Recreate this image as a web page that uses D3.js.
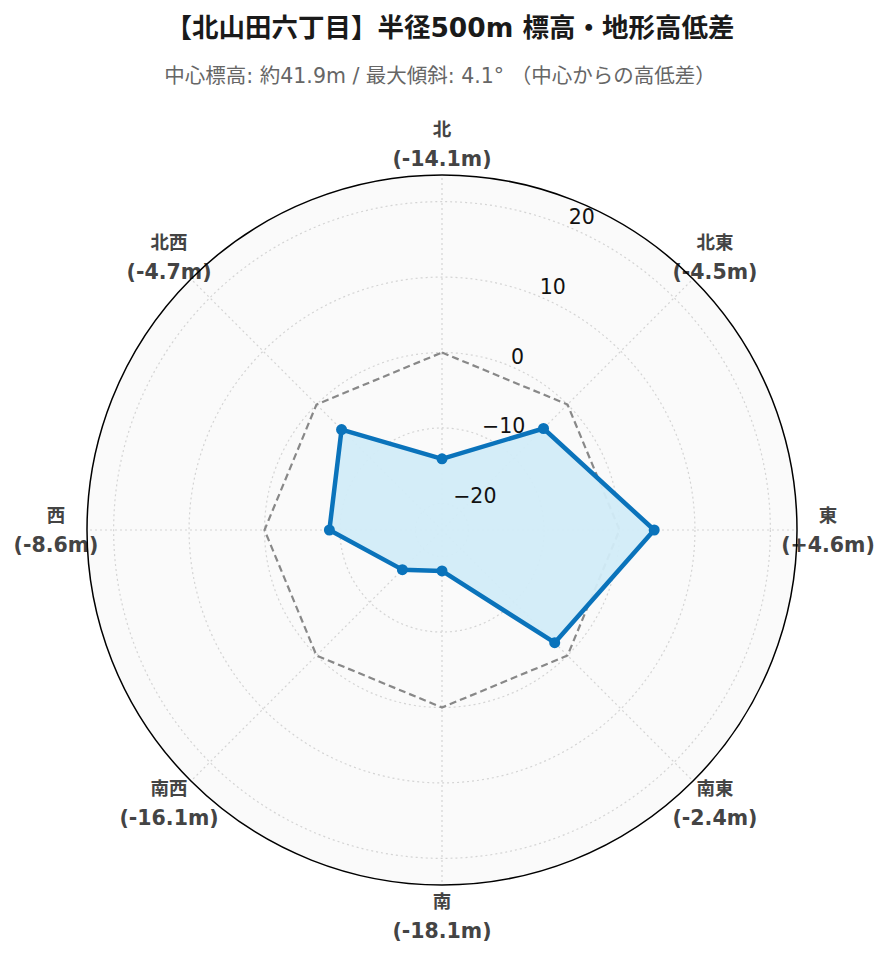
<!DOCTYPE html>
<html><head><meta charset="utf-8">
<script src="https://cdn.jsdelivr.net/npm/d3@7"></script>
<style>
html,body{margin:0;padding:0;background:#fff;}
svg{display:block;}
</style></head>
<body>
<svg id="chart" width="889" height="962"></svg>
<script>
const directions = ["北","北東","東","南東","南","南西","西","北西"];
const elevDiff = [-14.1,-4.5,4.6,-2.4,-18.1,-16.1,-8.6,-4.7];
const referenceZero = [0,0,0,0,0,0,0,0];
const radialTicks = [-20,-10,0,10,20];
const radialRange = [-23.53, 23.53];
const titleText = "【北山田六丁目】半径500m 標高・地形高低差";
const subtitleText = "中心標高: 約41.9m / 最大傾斜: 4.1° （中心からの高低差）";

const FONT = "'DejaVu Sans','Noto Sans CJK JP',sans-serif";
const svg = d3.select("#chart");
const cx = 442, cy = 530, R = 355;

const r = d3.scaleLinear().domain(radialRange).range([0, R]);
const ang = d3.scalePoint().domain(directions).range([0, 2*Math.PI*(directions.length-1)/directions.length]);
const pt = (d, v) => { const a = ang(d); const rr = r(v); return [cx + rr*Math.sin(a), cy - rr*Math.cos(a)]; };

// title
svg.append("text").attr("x", 450).attr("y", 37).attr("text-anchor","middle")
  .attr("font-family", FONT).attr("font-weight","bold").attr("font-size", 26.5).attr("fill","#1a1a1a")
  .text(titleText);
svg.append("text").attr("x", 440).attr("y", 83).attr("text-anchor","middle")
  .attr("font-family", FONT).attr("font-size", 20.5).attr("fill","#666")
  .text(subtitleText);

// background
svg.append("circle").attr("cx",cx).attr("cy",cy).attr("r",R).attr("fill","#fafafa");

// radial grid circles
const g = svg.append("g");
g.selectAll("circle.grid").data(radialTicks).join("circle")
  .attr("cx",cx).attr("cy",cy).attr("r", d=>r(d))
  .attr("fill","none").attr("stroke","#d4d4d4").attr("stroke-width",1.2).attr("stroke-dasharray","2,3");
// angular grid lines
g.selectAll("line.spoke").data(directions).join("line")
  .attr("x1",cx).attr("y1",cy)
  .attr("x2", d=>cx + R*Math.sin(ang(d))).attr("y2", d=>cy - R*Math.cos(ang(d)))
  .attr("stroke","#d4d4d4").attr("stroke-width",1.2).attr("stroke-dasharray","2,3");

// reference dashed polygon (0)
const refPts = directions.map((d,i)=>pt(d, referenceZero[i]));
svg.append("path").attr("d", d3.line()(refPts.concat([refPts[0]])))
  .attr("fill","none").attr("stroke","#888").attr("stroke-width",2.2).attr("stroke-dasharray","7,4");

// data polygon
const dataPts = directions.map((d,i)=>pt(d, elevDiff[i]));
svg.append("path").attr("d", d3.line()(dataPts.concat([dataPts[0]])))
  .attr("fill","#d2ecf8").attr("fill-opacity",0.95).attr("stroke","#0a73bb").attr("stroke-width",4.5)
  .attr("stroke-linejoin","round");
svg.selectAll("circle.mk").data(dataPts).join("circle")
  .attr("cx", d=>d[0]).attr("cy", d=>d[1]).attr("r",5.5).attr("fill","#0a73bb");

// radial tick labels along 22.5deg
const tickAng = Math.PI/8;
svg.selectAll("text.rt").data(radialTicks).join("text")
  .attr("x", d=>cx + r(d)*Math.sin(tickAng) + 1)
  .attr("y", d=>cy - r(d)*Math.cos(tickAng) - 2.5)
  .attr("font-family", FONT).attr("font-size", 20.5).attr("fill","#111")
  .text(d => d < 0 ? "\u2212" + Math.abs(d) : String(d));

// angular labels
const LR = 386;
const fmt = v => "(" + (v > 0 ? "+" : "") + v.toFixed(1) + "m)";
const lab = svg.selectAll("g.al").data(directions).join("g")
  .attr("transform", d=>`translate(${cx + LR*Math.sin(ang(d))},${cy - LR*Math.cos(ang(d))})`);
lab.append("text").attr("y",-14.5).attr("dy","0.35em").attr("text-anchor","middle")
  .attr("font-family", FONT).attr("font-weight","bold").attr("font-size",18.5).attr("fill","#444")
  .text(d=>d);
lab.append("text").attr("y",14.5).attr("dy","0.35em").attr("text-anchor","middle")
  .attr("font-family", FONT).attr("font-weight","bold").attr("font-size",20.5).attr("fill","#444")
  .text((d,i)=>fmt(elevDiff[i]));

// outer circle
svg.append("circle").attr("cx",cx).attr("cy",cy).attr("r",R).attr("fill","none").attr("stroke","#000").attr("stroke-width",1.5);
</script>
</body></html>
